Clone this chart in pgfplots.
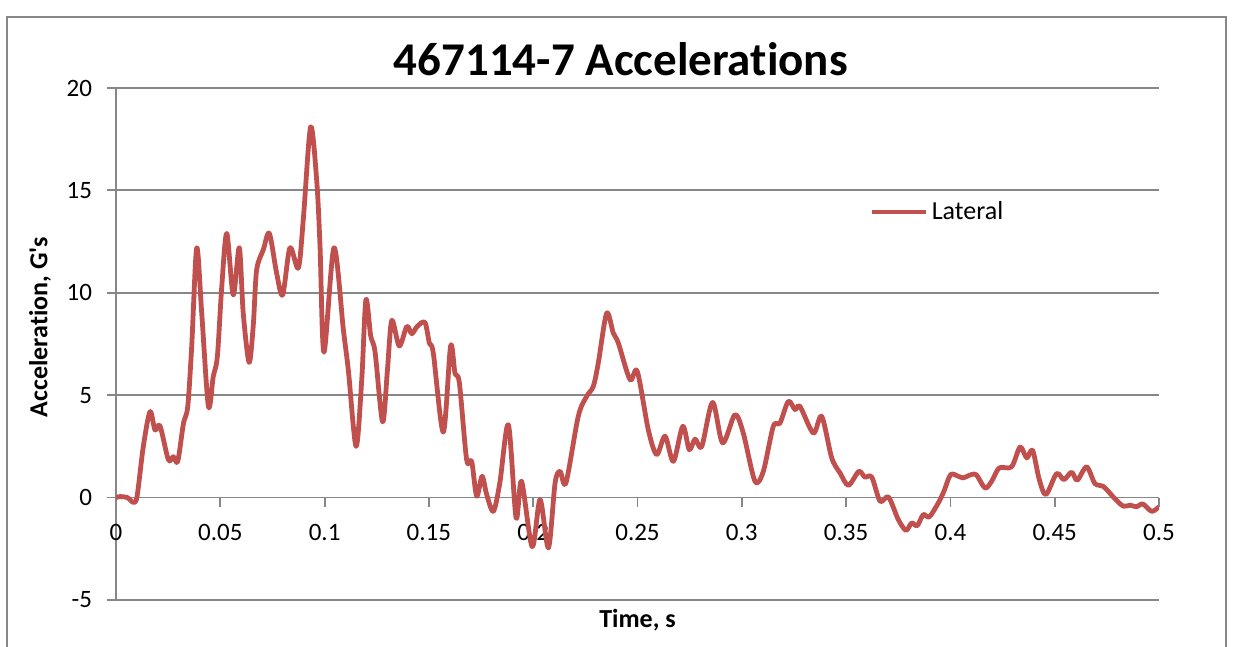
\documentclass[border=0pt]{standalone}
\usepackage{pgfplots}
\pgfplotsset{compat=1.18}
\usepackage{fontspec}
\setmainfont{Carlito}[Ligatures={TeX,NoCommon}]
\definecolor{lateral}{HTML}{C0504D}
\definecolor{gridgray}{HTML}{878787}

\begin{document}
\begin{tikzpicture}
\useasboundingbox (-58pt,-23.5pt) rectangle (560pt,300pt);
% chart frame (bottom edge is off the picture)
\draw[gridgray, line width=0.75pt] (-54.5pt,-40pt) -- (-54.5pt,291.5pt) -- (555pt,291.5pt) -- (555pt,-40pt);
\begin{axis}[
  at={(0,0)}, anchor=south west,
  scale only axis, width=521.5pt, height=256pt,
  xmin=0, xmax=0.5, ymin=-5, ymax=20,
  axis x line=middle, axis y line=left,
  axis line style={gridgray, line width=0.9pt, -},
  hide obscured x ticks=false,
  xtick={0,0.05,0.1,0.15,0.2,0.25,0.3,0.35,0.4,0.45,0.5},
  ytick={-5,0,5,10,15,20},
  ymajorgrids, grid style={gridgray, line width=0.9pt},
  tick style={gridgray, line width=0.9pt},
  tick align=outside, major tick length=4.5pt,
  scaled x ticks=false,
  /pgf/number format/assume math mode=true,
  xticklabel style={/pgf/number format/fixed, /pgf/number format/precision=2,
    font=\fontsize{12.5}{15}\selectfont, anchor=center, yshift=-13pt},
  yticklabel style={font=\fontsize{12.5}{15}\selectfont, anchor=east, xshift=-4pt},
  every axis title/.style={at={(axis description cs:0.484,1.0566)}, anchor=center,
    font=\bfseries\fontsize{23.5}{28}\selectfont},
  title={467114-7 Accelerations},
  every axis x label/.style={at={(axis description cs:0.5,-0.039)}, anchor=center,
    font=\bfseries\fontsize{13}{16}\selectfont},
  every axis y label/.style={at={(axis description cs:-0.0729,0.533)}, anchor=center,
    rotate=90, font=\bfseries\fontsize{13}{16}\selectfont},
  xlabel={Time, s},
  ylabel={Acceleration, G\textquotesingle s},
  legend style={draw=none, fill=none, at={(axis description cs:0.7225,0.758)}, anchor=west,
    inner sep=0pt, font=\fontsize{13}{16}\selectfont, nodes={inner sep=1.5pt}},
  legend image code/.code={\draw[#1] (0pt,0pt) -- (27pt,0pt);},
]
\addplot[lateral, line width=2.4pt, smooth, line join=round] coordinates {
(0,0.0) (0.002,0.05) (0.0055,0.0) (0.0083,-0.23) (0.0101,0.06) (0.0131,2.5)
(0.0163,4.2) (0.0187,3.3) (0.0211,3.5) (0.0251,1.85) (0.0275,2.0) (0.0296,1.77)
(0.0323,3.6) (0.0344,4.45) (0.0363,7.4) (0.0387,12.2) (0.0411,9.0) (0.0443,4.45)
(0.0466,5.9) (0.0486,6.9) (0.0507,10.3) (0.0531,12.9) (0.0562,9.9) (0.0591,12.2)
(0.061,9.0) (0.0638,6.6) (0.0658,8.4) (0.0674,11.1) (0.0706,12.1) (0.0735,12.9)
(0.077,10.96) (0.0799,9.9) (0.0834,12.2) (0.0874,11.2) (0.0898,13.6) (0.0933,18.1)
(0.0962,15.5) (0.0978,12.3) (0.0997,7.1) (0.1045,12.2) (0.109,8.2) (0.1114,6.2)
(0.1151,2.5) (0.1178,5.75) (0.1198,9.66) (0.1221,7.9) (0.1242,7.1) (0.1278,3.7)
(0.1301,6.2) (0.1322,8.65) (0.1358,7.4) (0.1394,8.36) (0.1418,8.0) (0.1444,8.36)
(0.1481,8.55) (0.1502,7.55) (0.1521,7.06) (0.1569,3.2) (0.1604,7.4) (0.1625,6.08)
(0.1646,5.6) (0.1681,1.85) (0.1705,1.77) (0.1729,0.07) (0.1755,1.04) (0.1777,0.15)
(0.1809,-0.67) (0.184,0.72) (0.1881,3.56) (0.1918,-0.99) (0.1944,0.8) (0.1995,-2.4)
(0.2033,-0.1) (0.2073,-2.45) (0.2105,0.72) (0.2129,1.28) (0.2157,0.72) (0.2216,3.97)
(0.2256,4.94) (0.2288,5.43) (0.2312,6.57) (0.2352,9.0) (0.2384,8.03) (0.2408,7.55)
(0.2464,5.76) (0.2499,6.16) (0.2552,3.3) (0.2592,2.1) (0.2632,3.0) (0.2672,1.77)
(0.2717,3.48) (0.2748,2.34) (0.2776,2.86) (0.2808,2.5) (0.286,4.65) (0.2908,2.67)
(0.2967,4.05) (0.3007,3.15) (0.3063,0.8) (0.3103,1.28) (0.3151,3.48) (0.3183,3.64)
(0.3223,4.7) (0.3255,4.3) (0.3279,4.45) (0.3343,3.15) (0.3383,3.97) (0.3431,1.94)
(0.3471,1.2) (0.3511,0.6) (0.3561,1.28) (0.359,1.0) (0.3623,1.0) (0.3663,-0.18)
(0.3703,0.03) (0.375,-1.07) (0.3787,-1.6) (0.3814,-1.24) (0.3841,-1.37) (0.387,-0.83)
(0.3899,-0.94) (0.3942,-0.26) (0.3969,0.31) (0.4001,1.12) (0.4038,1.04) (0.4062,0.96)
(0.4086,1.07) (0.4123,1.12) (0.4166,0.47) (0.4198,0.8) (0.4234,1.45) (0.4293,1.5)
(0.4334,2.47) (0.4366,1.94) (0.4394,2.31) (0.4426,0.88) (0.4458,0.15) (0.4509,1.17)
(0.4544,0.88) (0.4581,1.24) (0.4608,0.85) (0.4653,1.5) (0.4693,0.68) (0.4733,0.55)
(0.4789,-0.06) (0.4829,-0.42) (0.4861,-0.37) (0.4893,-0.45) (0.4922,-0.31) (0.4965,-0.67)
(0.5,-0.45)};
\addlegendentry{Lateral}
\end{axis}
\end{tikzpicture}
\end{document}
